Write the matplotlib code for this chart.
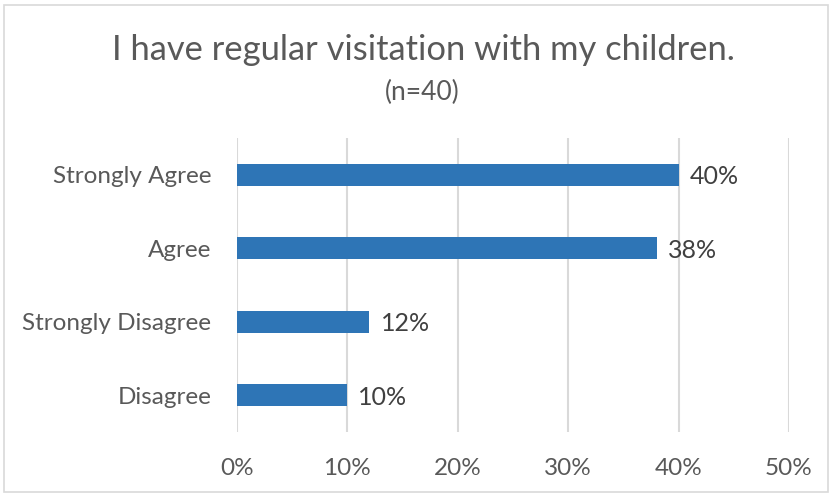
import matplotlib.pyplot as plt
import matplotlib.ticker as mtick
from matplotlib.patches import Rectangle

categories = ['Disagree', 'Strongly Disagree', 'Agree', 'Strongly Agree']
shares = [0.10, 0.12, 0.38, 0.40]
x_ticks = [0, 0.1, 0.2, 0.3, 0.4, 0.5]

plt.rcParams['font.family'] = ['Lato', 'DejaVu Sans']

fig = plt.figure(figsize=(8.3, 4.95), dpi=100)
ax = fig.add_axes([237 / 830, 1 - 432 / 495, 552 / 830, 294 / 495])

ax.barh(range(len(categories)), shares, height=0.3, color='#2E75B6', zorder=3)

for i, v in enumerate(shares):
	ax.text(v + 0.01, i, f'{v:.0%}', va='center_baseline', ha='left',
		fontsize=18, color='#404040')

ax.set_xlim(0, 0.5)
ax.set_ylim(-0.5, 3.5)
ax.set_xticks(x_ticks)
ax.xaxis.set_major_formatter(mtick.PercentFormatter(1.0, decimals=0))
ax.set_yticks(range(len(categories)))
ax.set_yticklabels(categories)
ax.tick_params(axis='both', length=0, labelsize=17.5, labelcolor='#595959')
ax.tick_params(axis='x', pad=19)
ax.tick_params(axis='y', pad=18.5)
ax.grid(axis='x', color='#D9D9D9', linewidth=1.5, zorder=0)
for s in ax.spines.values():
	s.set_visible(False)

fig.text(423 / 830, 1 - 50 / 495, 'I have regular visitation with my children.',
	ha='center', va='center', fontsize=24.8, color='#595959')
fig.text(422 / 830, 1 - 92 / 495, '(n=40)', ha='center', va='center',
	fontsize=19, color='#595959')

# chart frame
fig.patches.append(Rectangle((4 / 830, 3 / 495), 824 / 830, 487 / 495,
	transform=fig.transFigure, fill=False, edgecolor='#D9D9D9', linewidth=1.2))

fig.savefig('out.png', dpi=100)
